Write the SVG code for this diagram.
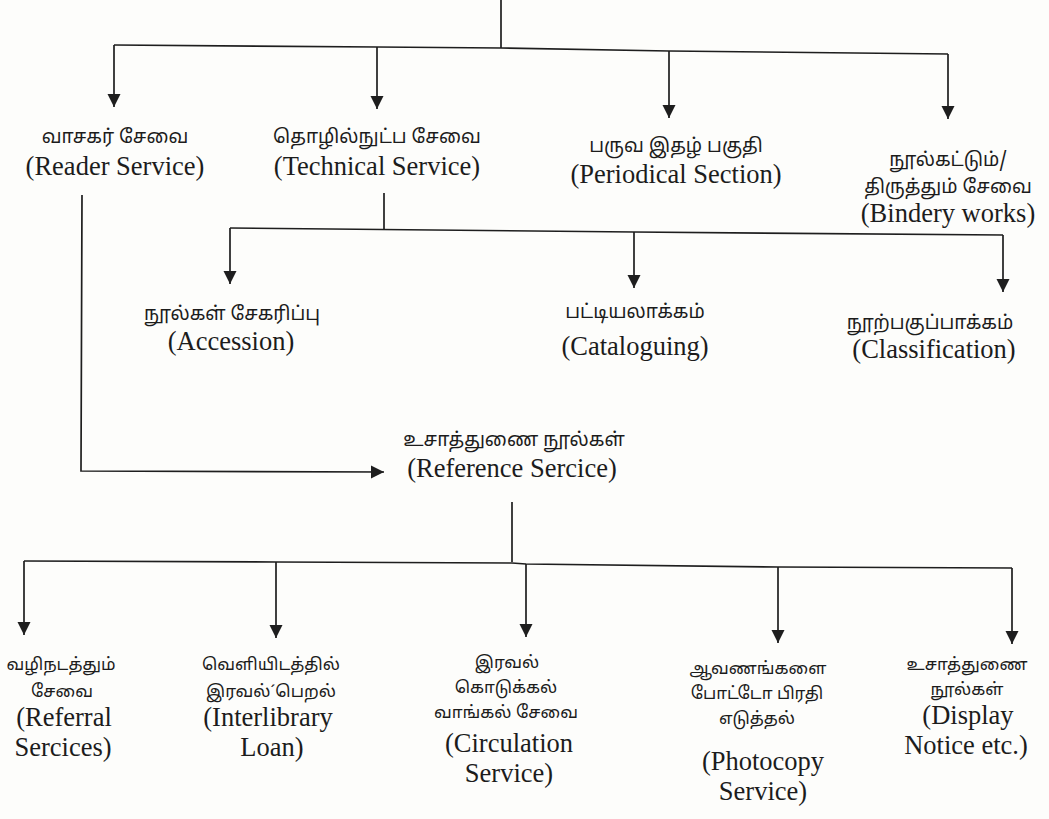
<svg xmlns="http://www.w3.org/2000/svg" width="1049" height="819" viewBox="0 0 1049 819">
<style>
.ln{fill:none;stroke:#1e1e1e;stroke-width:1.7}
.ar{fill:none;stroke:#1e1e1e;stroke-width:1.7;marker-end:url(#ah)}
.en{font-family:"Liberation Serif","Times New Roman",serif;font-size:26.5px;fill:#1c1c1c;text-anchor:middle}
.ta{font-family:"Noto Sans Tamil","Lohit Tamil","Noto Sans","DejaVu Sans",sans-serif;font-size:19px;fill:#1c1c1c;text-anchor:middle}
.ts{font-size:17px}
</style>
<defs>
<marker id="ah" markerUnits="userSpaceOnUse" markerWidth="14" markerHeight="16" refX="13" refY="6.5" orient="auto" viewBox="0 0 14 13">
<path d="M0,0 L13,6.5 L0,13 Z" fill="#1e1e1e"/>
</marker>
</defs>
<rect width="1049" height="819" fill="#fdfdfb"/>
<g id="connectors">
<line class="ln" x1="501" y1="0" x2="501" y2="48"/>
<polyline class="ln" points="114,45 377,47 501,48 669,51 948,54"/>
<line class="ar" x1="114" y1="45" x2="114" y2="107"/>
<line class="ar" x1="377" y1="47" x2="377" y2="109"/>
<line class="ar" x1="669" y1="51" x2="669" y2="118"/>
<line class="ar" x1="948" y1="54" x2="948" y2="119"/>
<line class="ln" x1="384" y1="193" x2="384" y2="229"/>
<polyline class="ln" points="230,228 634,232 1003,235"/>
<line class="ar" x1="230" y1="228" x2="230" y2="284"/>
<line class="ar" x1="634" y1="232" x2="634" y2="288"/>
<line class="ar" x1="1003" y1="235" x2="1003" y2="292"/>
<polyline class="ar" points="82,195 81,471 384,472"/>
<line class="ln" x1="512" y1="502" x2="512" y2="562"/>
<polyline class="ln" points="24,561 276,562 512,563 526,564 778,567 1012,568"/>
<line class="ar" x1="24" y1="561" x2="24" y2="635"/>
<line class="ar" x1="276" y1="562" x2="276" y2="638"/>
<line class="ar" x1="526" y1="564" x2="526" y2="637"/>
<line class="ar" x1="778" y1="567" x2="778" y2="643"/>
<line class="ar" x1="1012" y1="568" x2="1012" y2="644"/>
</g>
<g id="reader">
<text class="ta" x="115" y="143">வாசகர் சேவை</text>
<text class="en" x="115" y="175">(Reader Service)</text>
</g>
<g id="technical">
<text class="ta" x="377" y="143">தொழில்நுட்ப சேவை</text>
<text class="en" x="377" y="175">(Technical Service)</text>
</g>
<g id="periodical">
<text class="ta" x="676" y="152">பருவ இதழ் பகுதி</text>
<text class="en" x="676" y="183">(Periodical Section)</text>
</g>
<g id="bindery">
<text class="ta" x="948" y="166">நூல்கட்டும்/</text>
<text class="ta" x="948" y="193">திருத்தும் சேவை</text>
<text class="en" x="948" y="222">(Bindery works)</text>
</g>
<g id="accession">
<text class="ta" x="232" y="320">நூல்கள் சேகரிப்பு</text>
<text class="en" x="231" y="350">(Accession)</text>
</g>
<g id="cataloguing">
<text class="ta" x="635" y="318">பட்டியலாக்கம்</text>
<text class="en" x="635" y="355">(Cataloguing)</text>
</g>
<g id="classification">
<text class="ta" x="930" y="329">நூற்பகுப்பாக்கம்</text>
<text class="en" x="934" y="358">(Classification)</text>
</g>
<g id="reference">
<text class="ta" x="514" y="446">உசாத்துணை நூல்கள்</text>
<text class="en" x="512" y="477">(Reference Sercice)</text>
</g>
<g id="referral">
<text class="ta ts" x="61" y="670">வழிநடத்தும்</text>
<text class="ta ts" x="62" y="697">சேவை</text>
<text class="en" x="64" y="726">(Referral</text>
<text class="en" x="63" y="756">Sercices)</text>
</g>
<g id="interlibrary">
<text class="ta ts" x="271" y="670">வெளியிடத்தில்</text>
<text class="ta ts" x="271" y="697">இரவல்´பெறல்</text>
<text class="en" x="268" y="726">(Interlibrary</text>
<text class="en" x="272" y="756">Loan)</text>
</g>
<g id="circulation">
<text class="ta ts" x="507" y="668">இரவல்</text>
<text class="ta ts" x="506" y="693">கொடுக்கல்</text>
<text class="ta ts" x="506" y="718">வாங்கல் சேவை</text>
<text class="en" x="509" y="752">(Circulation</text>
<text class="en" x="509" y="782">Service)</text>
</g>
<g id="photocopy">
<text class="ta ts" x="758" y="674">ஆவணங்களை</text>
<text class="ta ts" x="757" y="699">போட்டோ பிரதி</text>
<text class="ta ts" x="757" y="724">எடுத்தல்</text>
<text class="en" x="763" y="770">(Photocopy</text>
<text class="en" x="763" y="800">Service)</text>
</g>
<g id="display">
<text class="ta ts" x="967" y="670">உசாத்துணை</text>
<text class="ta ts" x="967" y="695">நூல்கள்</text>
<text class="en" x="968" y="724">(Display</text>
<text class="en" x="966" y="754">Notice etc.)</text>
</g>
</svg>
